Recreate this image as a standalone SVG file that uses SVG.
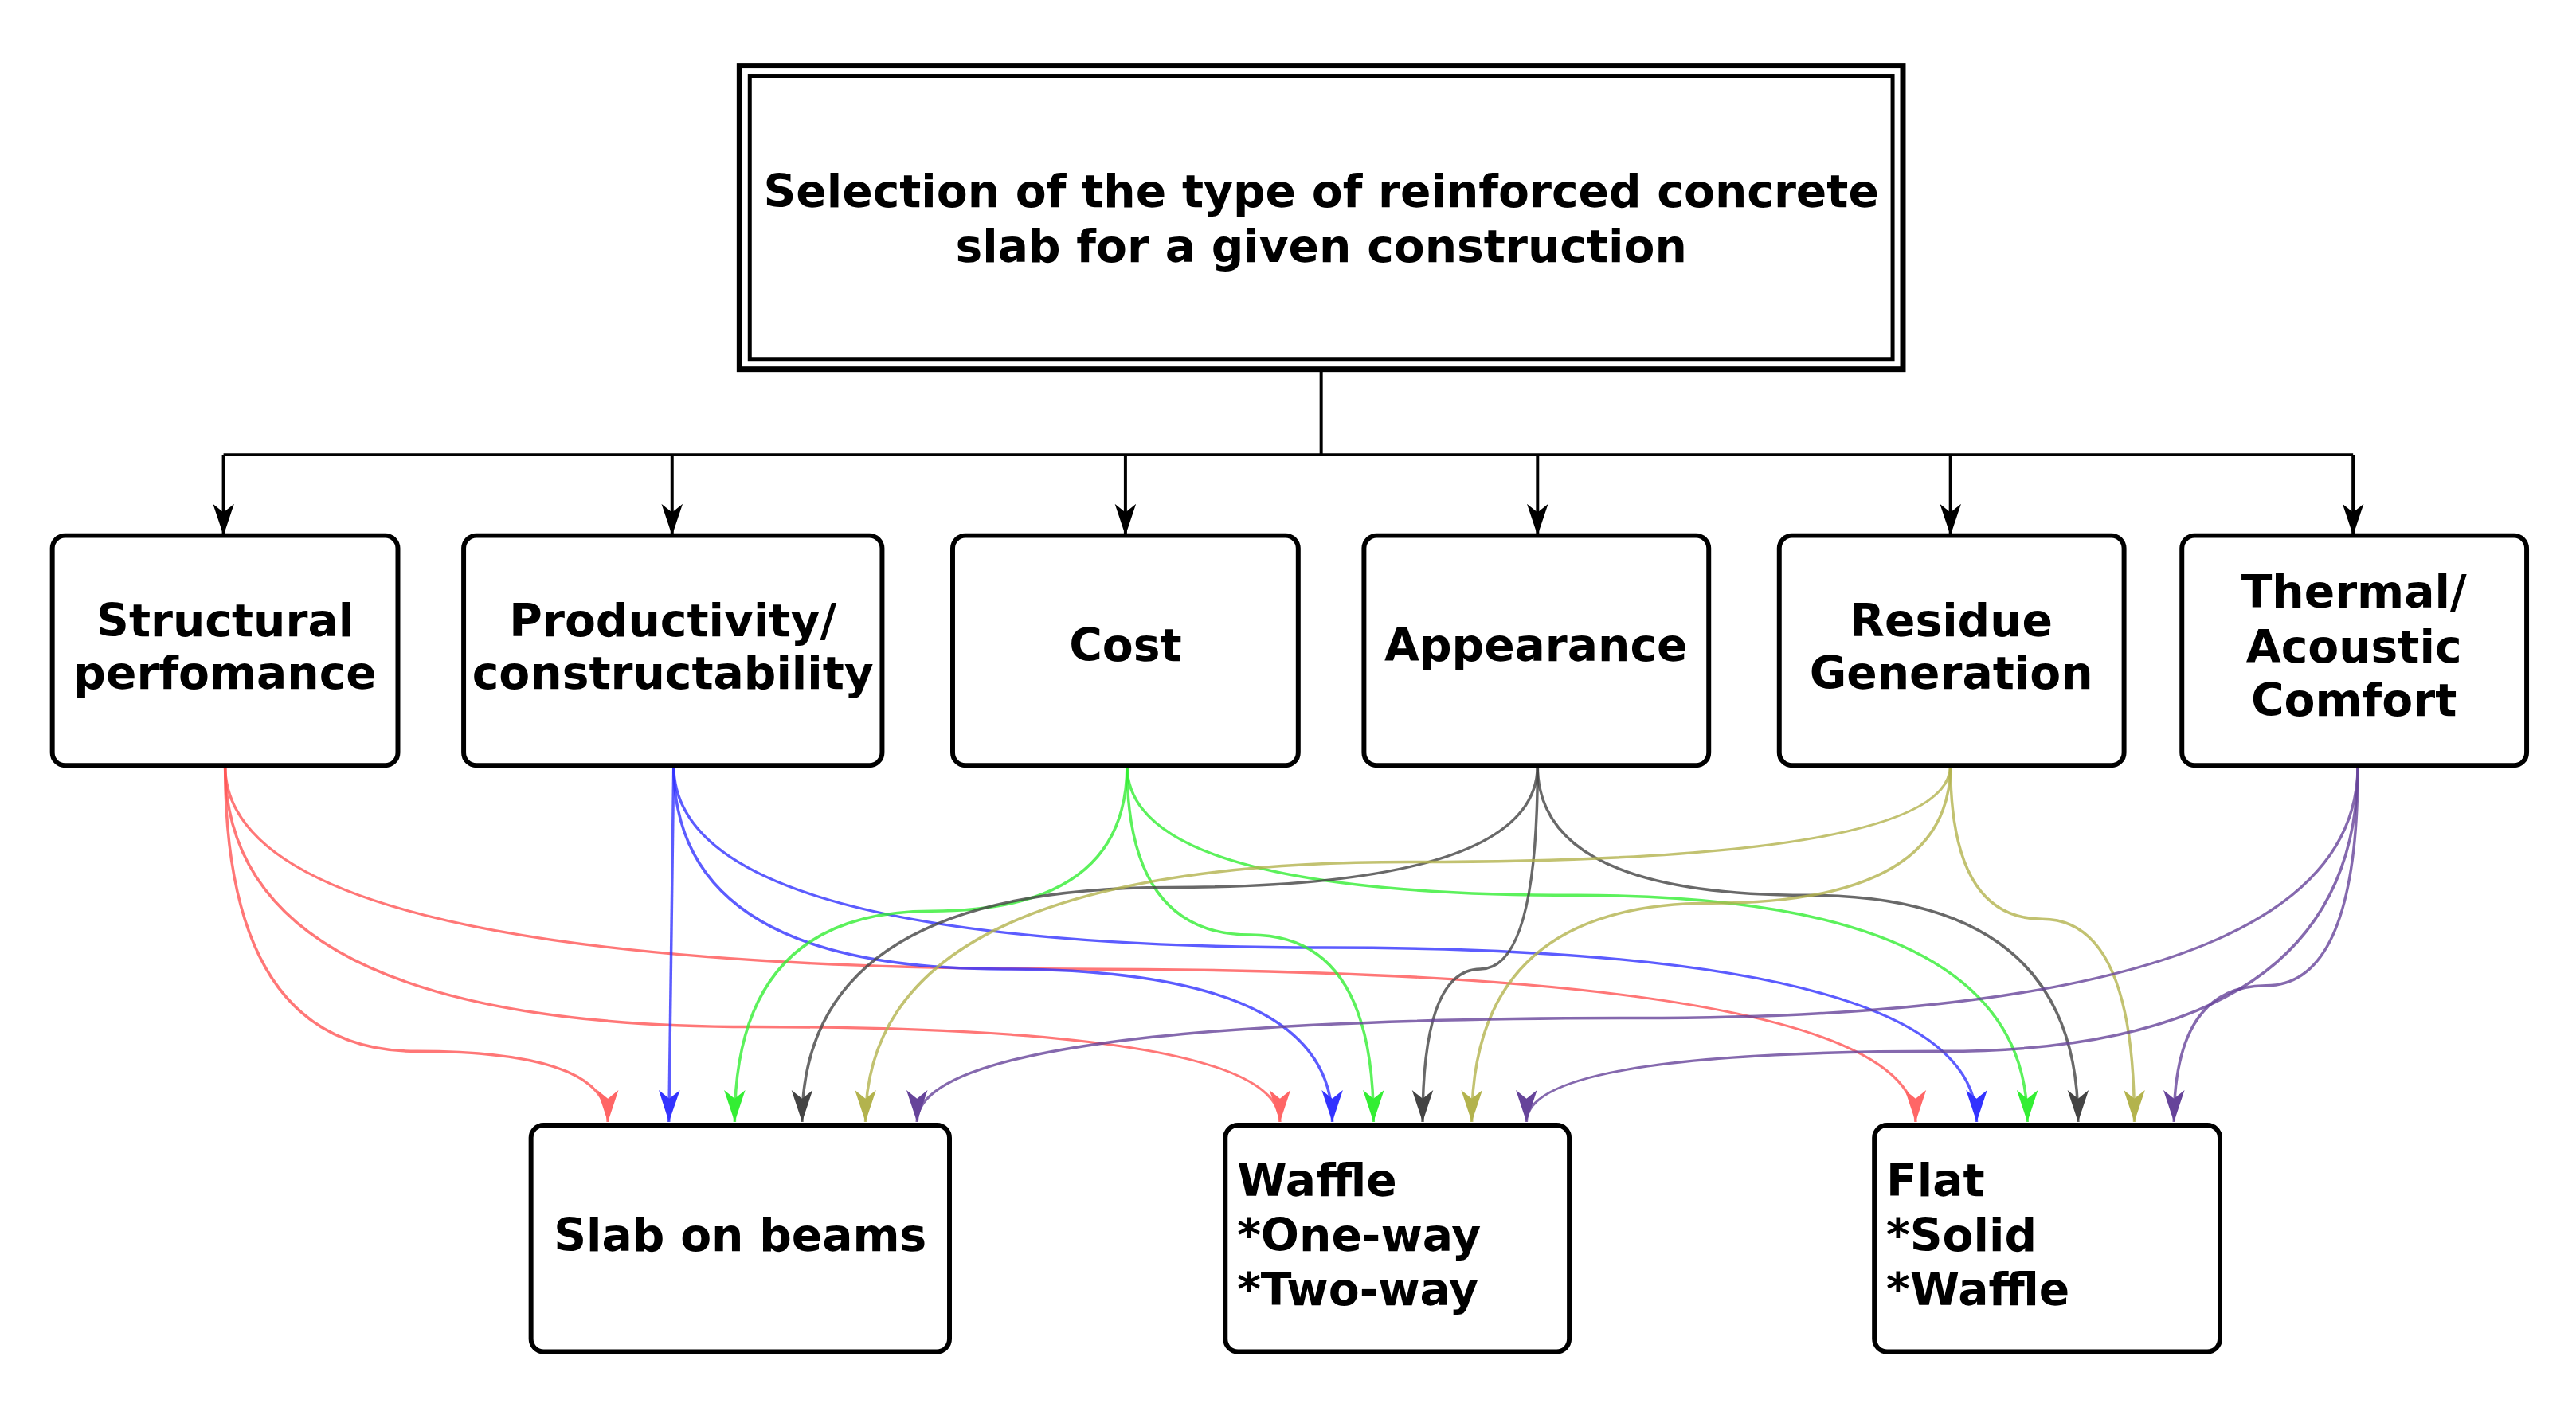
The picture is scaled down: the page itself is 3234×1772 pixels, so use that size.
<svg xmlns="http://www.w3.org/2000/svg" width="3234" height="1772" viewBox="0 0 3234 1772">
<style>
.box{fill:#fff;stroke:#000;stroke-width:6}
.t{font-family:"DejaVu Sans",Verdana,sans-serif;font-weight:bold;font-size:57px;fill:#000}
.c{text-anchor:middle}
.e{fill:none;stroke-width:3.5;stroke-opacity:0.8}
</style>
<defs>
<marker id="mk" markerUnits="userSpaceOnUse" markerWidth="40" markerHeight="40" viewBox="0 0 30 20" refX="30" refY="10" orient="auto"><path d="M0,0 L30,10 L0,20 L8,10z" fill="#000"/></marker>
<marker id="mr" markerUnits="userSpaceOnUse" markerWidth="40" markerHeight="40" viewBox="0 0 30 20" refX="30" refY="10" orient="auto"><path d="M0,0 L30,10 L0,20 L8,10z" fill="#ff6666"/></marker>
<marker id="mb" markerUnits="userSpaceOnUse" markerWidth="40" markerHeight="40" viewBox="0 0 30 20" refX="30" refY="10" orient="auto"><path d="M0,0 L30,10 L0,20 L8,10z" fill="#3333ff"/></marker>
<marker id="mg" markerUnits="userSpaceOnUse" markerWidth="40" markerHeight="40" viewBox="0 0 30 20" refX="30" refY="10" orient="auto"><path d="M0,0 L30,10 L0,20 L8,10z" fill="#33ee33"/></marker>
<marker id="mk2" markerUnits="userSpaceOnUse" markerWidth="40" markerHeight="40" viewBox="0 0 30 20" refX="30" refY="10" orient="auto"><path d="M0,0 L30,10 L0,20 L8,10z" fill="#444"/></marker>
<marker id="mo" markerUnits="userSpaceOnUse" markerWidth="40" markerHeight="40" viewBox="0 0 30 20" refX="30" refY="10" orient="auto"><path d="M0,0 L30,10 L0,20 L8,10z" fill="#b3b34d"/></marker>
<marker id="mp" markerUnits="userSpaceOnUse" markerWidth="40" markerHeight="40" viewBox="0 0 30 20" refX="30" refY="10" orient="auto"><path d="M0,0 L30,10 L0,20 L8,10z" fill="#66449a"/></marker>
</defs>
<g transform="scale(0.995)">
<g id="connectors">
<path d="M1667,466 V574 M282,574 H2969" fill="none" stroke="#000" stroke-width="4"/>
<g fill="none" stroke="#000" stroke-width="4">
<path d="M282,574 V676" marker-end="url(#mk)"/>
<path d="M848,574 V676" marker-end="url(#mk)"/>
<path d="M1420,574 V676" marker-end="url(#mk)"/>
<path d="M1940,574 V676" marker-end="url(#mk)"/>
<path d="M2461,574 V676" marker-end="url(#mk)"/>
<path d="M2969,574 V676" marker-end="url(#mk)"/>
</g>
<g stroke="#ff5555">
<path class="e" d="M284,966 Q284,1327 526,1327 Q767,1327 767,1416" marker-end="url(#mr)"/>
<path class="e" d="M284,966 Q284,1296 950,1296 Q1615,1296 1615,1416" marker-end="url(#mr)"/>
<path class="e" d="M284,966 Q284,1223 1350,1223 Q2417,1223 2417,1416" marker-end="url(#mr)"/>
</g>
<g stroke="#3333ff">
<path class="e" d="M850,966 L844,1416" marker-end="url(#mb)"/>
<path class="e" d="M850,966 Q850,1223 1265,1223 Q1681,1223 1681,1416" marker-end="url(#mb)"/>
<path class="e" d="M850,966 Q850,1196 1672,1196 Q2494,1196 2494,1416" marker-end="url(#mb)"/>
</g>
<g stroke="#33ee33">
<path class="e" d="M1422,966 Q1422,1150 1175,1150 Q927,1150 927,1416" marker-end="url(#mg)"/>
<path class="e" d="M1422,966 Q1422,1180 1578,1180 Q1733,1180 1733,1416" marker-end="url(#mg)"/>
<path class="e" d="M1422,966 Q1422,1130 1990,1130 Q2558,1130 2558,1416" marker-end="url(#mg)"/>
</g>
<g stroke="#444">
<path class="e" d="M1940,966 Q1940,1120 1476,1120 Q1012,1120 1012,1416" marker-end="url(#mk2)"/>
<path class="e" d="M1940,966 Q1940,1223 1868,1223 Q1795,1223 1795,1416" marker-end="url(#mk2)"/>
<path class="e" d="M1940,966 Q1940,1130 2281,1130 Q2622,1130 2622,1416" marker-end="url(#mk2)"/>
</g>
<g stroke="#b3b34d">
<path class="e" d="M2461,966 Q2461,1088 1777,1088 Q1092,1088 1092,1416" marker-end="url(#mo)"/>
<path class="e" d="M2461,966 Q2461,1140 2159,1140 Q1857,1140 1857,1416" marker-end="url(#mo)"/>
<path class="e" d="M2461,966 Q2461,1160 2577,1160 Q2693,1160 2693,1416" marker-end="url(#mo)"/>
</g>
<g stroke="#66449a">
<path class="e" d="M2975,966 Q2975,1285 2066,1285 Q1157,1285 1157,1416" marker-end="url(#mp)"/>
<path class="e" d="M2975,966 Q2975,1327 2450,1327 Q1926,1327 1926,1416" marker-end="url(#mp)"/>
<path class="e" d="M2975,966 Q2975,1244 2859,1244 Q2743,1244 2743,1416" marker-end="url(#mp)"/>
</g>
</g>

<g id="top">
<rect x="933" y="83" width="1468" height="383" fill="#fff" stroke="#000" stroke-width="7"/>
<rect x="946" y="96" width="1442" height="357" fill="none" stroke="#000" stroke-width="5"/>
<text class="t c" x="1667" y="261">Selection of the type of reinforced concrete</text>
<text class="t c" x="1667" y="331">slab for a given construction</text>
</g>

<g id="n1"><rect class="box" x="66" y="676" width="436" height="290" rx="16"/>
<text class="t c" x="284" y="803">Structural</text><text class="t c" x="284" y="869">perfomance</text></g>
<g id="n2"><rect class="box" x="585" y="676" width="528" height="290" rx="16"/>
<text class="t c" x="849" y="803">Productivity/</text><text class="t c" x="849" y="869">constructability</text></g>
<g id="n3"><rect class="box" x="1202" y="676" width="436" height="290" rx="16"/>
<text class="t c" x="1420" y="834">Cost</text></g>
<g id="n4"><rect class="box" x="1721" y="676" width="435" height="290" rx="16"/>
<text class="t c" x="1938" y="834">Appearance</text></g>
<g id="n5"><rect class="box" x="2245" y="676" width="435" height="290" rx="16"/>
<text class="t c" x="2462" y="803">Residue</text><text class="t c" x="2462" y="869">Generation</text></g>
<g id="n6"><rect class="box" x="2753" y="676" width="435" height="290" rx="16"/>
<text class="t c" x="2970" y="767">Thermal/</text><text class="t c" x="2970" y="836">Acoustic</text><text class="t c" x="2970" y="904">Comfort</text></g>

<g id="b1"><rect class="box" x="670" y="1420" width="528" height="286" rx="16"/>
<text class="t c" x="934" y="1579">Slab on beams</text></g>
<g id="b2"><rect class="box" x="1546" y="1420" width="434" height="286" rx="16"/>
<text class="t" x="1561" y="1510">Waffle</text><text class="t" x="1561" y="1579">*One-way</text><text class="t" x="1561" y="1647">*Two-way</text></g>
<g id="b3"><rect class="box" x="2365" y="1420" width="436" height="286" rx="16"/>
<text class="t" x="2380" y="1510">Flat</text><text class="t" x="2380" y="1579">*Solid</text><text class="t" x="2380" y="1647">*Waffle</text></g>
</g>
</svg>
